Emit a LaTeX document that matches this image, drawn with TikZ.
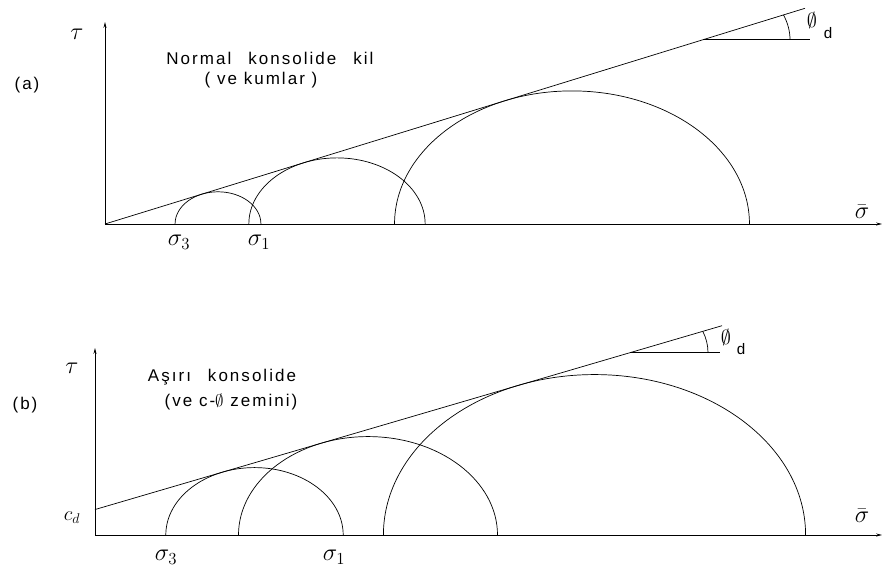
\documentclass[tikz,border=0pt]{standalone}
\usepackage{fontspec}
\usepackage{amssymb}
\usetikzlibrary{arrows.meta}
\newfontfamily\lbl[LetterSpace=12]{Liberation Sans}
\begin{document}
\begin{tikzpicture}[x=0.03cm,y=0.03cm,line width=0.6pt,
  axis/.style={-{Stealth[length=5pt,width=2.6pt]},line width=0.7pt},
  txt/.style={font=\lbl\fontsize{14.5}{17}\selectfont,inner sep=0pt,align=center},
  sym/.style={font=\fontsize{22}{26}\selectfont,inner sep=0pt},
  small/.style={font=\fontsize{18}{20}\selectfont,inner sep=0pt},
  sub/.style={font=\lbl\fontsize{13}{15}\selectfont,inner sep=0pt}]
\useasboundingbox[fill=white] (0,0) rectangle (883,575);
% ---------------- panel (a)
\coordinate (oa) at (105,351);
\coordinate (ya) at (105,553);
\coordinate (xa) at (882,351);
\draw[axis] (oa) -- (ya);
\draw[axis] (oa) -- (xa);
\begin{scope}[shift={(oa)},yscale=0.75]
  \coordinate (ea0) at (0,0);
  \coordinate (ea1) at (700,287.6);
  \draw (ea0) -- (ea1);
  \coordinate (pa0) at (598,245.7);
  \coordinate (pa1) at (705,245.7);
  \draw (pa0) -- (pa1);
  \draw (685,245.7) arc[start angle=0,end angle=22.33,radius=87];
  \draw (70.06,0) arc[start angle=180,end angle=0,radius=42.94];
  \draw (143.84,0) arc[start angle=180,end angle=0,radius=88.16];
  \draw (289.54,0) arc[start angle=180,end angle=0,radius=177.46];
\end{scope}
\node[sym] (taua) at (77,541) {$\tau$};
\node[txt] (la) at (27,490) {(a)};
\node[txt] (ta1) at (270,517) {Normal\quad konsolide\quad kil};
\node[txt] (ta2) at (261,495) {( ve kumlar )};
\node[sym] (s3a) at (179,333) {$\sigma_3$};
\node[sym] (s1a) at (259,333) {$\sigma_1$};
\node[small] (pha) at (812,555) {$\emptyset$};
\node[sub] (pda) at (828,542) {d};
\node[sym] (sba) at (862,363) {$\bar\sigma$};
% ---------------- panel (b)
\coordinate (ob) at (95,40);
\coordinate (yb) at (95,227);
\coordinate (xb) at (882,40);
\draw[axis] (ob) -- (yb);
\draw[axis] (ob) -- (xb);
\begin{scope}[shift={(ob)},yscale=0.76]
  \coordinate (eb0) at (0,33.5);
  \coordinate (eb1) at (627,275.4);
  \draw (eb0) -- (eb1);
  \coordinate (pb0) at (535,240);
  \coordinate (pb1) at (625,240);
  \draw (pb0) -- (pb1);
  \draw (613,240) arc[start angle=0,end angle=21.1,radius=78];
  \draw (70.8,0) arc[start angle=180,end angle=0,radius=88.7];
  \draw (143.5,0) arc[start angle=180,end angle=0,radius=129.5];
  \draw (288.4,0) arc[start angle=180,end angle=0,radius=211.1];
\end{scope}
\node[sym] (taub) at (72,207) {$\tau$};
\node[txt] (lb) at (25,170) {(b)};
\node[txt] (tb1) at (222,198) {Aşırı\quad konsolide};
\node[txt] (tb2) at (231,173) {(ve c-$\emptyset$ zemini)};
\node[small] (cd) at (72,57) {$c_d$};
\node[sym] (s3b) at (166,18) {$\sigma_3$};
\node[sym] (s1b) at (334,18) {$\sigma_1$};
\node[small] (phb) at (726,238) {$\emptyset$};
\node[sub] (pdb) at (741,226) {d};
\node[sym] (sbb) at (862,59) {$\bar\sigma$};
\end{tikzpicture}
\end{document}
